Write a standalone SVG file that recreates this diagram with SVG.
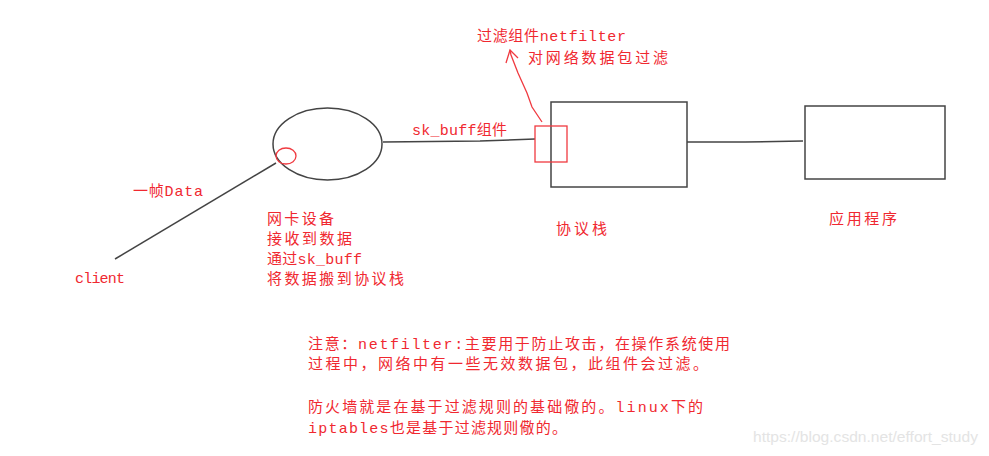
<svg xmlns="http://www.w3.org/2000/svg" width="989" height="456" viewBox="0 0 989 456">
<style>
.t{font-family:"Liberation Mono","Noto Sans CJK SC",monospace;font-size:15px;fill:#f02830;}
.ln{fill:none;stroke:#444;stroke-width:1.5;}
.rd{fill:none;stroke:#f03a40;stroke-width:1.3;}
.wm{font-family:"Liberation Sans",Arial,sans-serif;font-size:14px;fill:#e4e4e4;}
</style>
<rect width="989" height="456" fill="#fff"/>
<g id="connectors">
<path class="ln" d="M276,163 L115,259"/>
<path class="ln" d="M383,142 L480,141 L535,139"/>
<path class="ln" d="M687,142 L745,142 L803,141"/>
<path class="rd" d="M542,122 L532,107 L527,93 L518,73 L511,55 L510,50"/>
<path class="rd" d="M506,63 L510,50 L518,58"/>
</g>
<g id="nic">
<ellipse class="ln" cx="327.5" cy="144" rx="54.5" ry="36"/>
<ellipse class="rd" cx="286" cy="156" rx="10" ry="8"/>
<text class="t" x="267" y="224" textLength="67" lengthAdjust="spacing">网卡设备</text>
<text class="t" x="267" y="244" textLength="85" lengthAdjust="spacing">接收到数据</text>
<text class="t" x="267" y="264" textLength="95" lengthAdjust="spacing">通过sk_buff</text>
<text class="t" x="267" y="284" textLength="137" lengthAdjust="spacing">将数据搬到协议栈</text>
</g>
<g id="client">
<text class="t" x="75" y="283" textLength="50" lengthAdjust="spacing">client</text>
</g>
<g id="frame-label">
<text class="t" x="133" y="196" textLength="70" lengthAdjust="spacing">一帧Data</text>
</g>
<g id="skbuff-label">
<text class="t" x="412" y="135" textLength="95" lengthAdjust="spacing">sk_buff组件</text>
</g>
<g id="stack">
<rect class="ln" x="551" y="102" width="136" height="85"/>
<text class="t" x="556" y="234" textLength="51" lengthAdjust="spacing">协议栈</text>
</g>
<g id="netfilter">
<rect class="rd" x="535" y="126" width="32" height="36"/>
<text class="t" x="477" y="41" textLength="149" lengthAdjust="spacing">过滤组件netfilter</text>
<text class="t" x="528" y="63" textLength="140" lengthAdjust="spacing">对网络数据包过滤</text>
</g>
<g id="app">
<rect class="ln" x="805" y="106" width="140" height="73"/>
<text class="t" x="829" y="224" textLength="68" lengthAdjust="spacing">应用程序</text>
</g>
<g id="note">
<text class="t" x="308" y="349" textLength="422" lengthAdjust="spacing">注意：netfilter:主要用于防止攻击，在操作系统使用</text>
<text class="t" x="308" y="369" textLength="400" lengthAdjust="spacing">过程中，网络中有一些无效数据包，此组件会过滤。</text>
<text class="t" x="308" y="412" textLength="395" lengthAdjust="spacing">防火墙就是在基于过滤规则的基础儆的。linux下的</text>
<text class="t" x="308" y="433" textLength="259" lengthAdjust="spacing">iptables也是基于过滤规则儆的。</text>
</g>
<text class="wm" x="753" y="442" textLength="225" lengthAdjust="spacingAndGlyphs">https://blog.csdn.net/effort_study</text>
</svg>
